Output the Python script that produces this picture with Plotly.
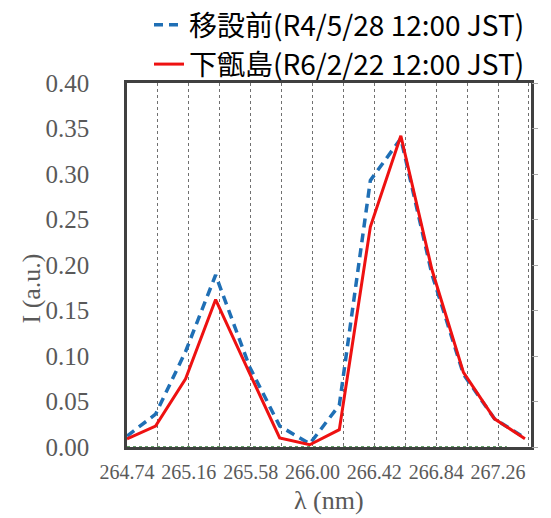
import plotly.graph_objects as go

# ---- data ----
wavelength_nm = [264.740, 264.934, 265.138, 265.342, 265.573, 265.777, 265.981,
                 266.182, 266.393, 266.600, 266.811, 267.025, 267.236, 267.443]
before_move = [0.012, 0.036, 0.105, 0.189, 0.088, 0.023, 0.0035,
               0.046, 0.293, 0.339, 0.190, 0.080, 0.031, 0.010]
shimokoshiki = [0.009, 0.023, 0.075, 0.162, 0.081, 0.010, 0.0025,
                0.019, 0.242, 0.342, 0.195, 0.082, 0.031, 0.009]
zero_x = [264.74, 267.32]
zero_y = [0.0, 0.0]

x_tick_labels = ["264.74", "265.16", "265.58", "266.00", "266.42", "266.84", "267.26"]
y_tick_vals = [0.00, 0.05, 0.10, 0.15, 0.20, 0.25, 0.30, 0.35, 0.40]
y_tick_labels = ["0.00", "0.05", "0.10", "0.15", "0.20", "0.25", "0.30", "0.35", "0.40"]

name_before = "移設前(R4/5/28 12:00 JST)"
name_after = "下甑島(R6/2/22 12:00 JST)"

W, H = 551, 518
ML, MR, MT, MB = 127, 20, 83, 71

fig = go.Figure()
fig.add_trace(go.Scatter(x=zero_x, y=zero_y, mode="lines", yaxis="y2",
                         line=dict(color="#2E7D32", width=1.5, dash="dot"),
                         showlegend=False, hoverinfo="skip"))
fig.add_trace(go.Scatter(x=wavelength_nm, y=before_move, mode="lines", name=name_before,
                         line=dict(color="#1F6FB5", width=3.5, dash="9px,6px")))
fig.add_trace(go.Scatter(x=wavelength_nm, y=shimokoshiki, mode="lines", name=name_after,
                         line=dict(color="#EE1111", width=3)))

tick_font_y = dict(family="Liberation Serif", size=25, color="#595959")
tick_font_x = dict(family="Liberation Serif", size=20, color="#595959")

fig.update_layout(
    width=W, height=H,
    margin=dict(l=ML, r=MR, t=MT, b=MB, pad=0, autoexpand=False),
    paper_bgcolor="white", plot_bgcolor="white",
    xaxis=dict(
        range=[264.74, 267.484],
        tickmode="linear", tick0=float(x_tick_labels[0]), dtick=0.42,
        tickformat=".2f",
        ticks="outside", ticklen=5, tickcolor="rgba(0,0,0,0)",
        tickfont=tick_font_x,
        showgrid=True, gridcolor="#707070", gridwidth=1, griddash="dot",
        minor=dict(tickmode="linear", tick0=float(x_tick_labels[0]), dtick=0.21,
                   showgrid=True, gridcolor="#707070", gridwidth=1, griddash="dot",
                   ticks=""),
        showline=True, linecolor="#404040", linewidth=2.5, mirror=True,
        zeroline=False,
    ),
    yaxis=dict(
        range=[0, 0.40],
        tickvals=y_tick_vals, ticktext=y_tick_labels,
        ticks="outside", ticklen=30, tickcolor="rgba(0,0,0,0)",
        tickfont=tick_font_y,
        showgrid=False, zeroline=False,
        showline=True, linecolor="#404040", linewidth=2.5, mirror=True,
    ),
    yaxis2=dict(
        range=[0, 0.40], overlaying="y", side="right",
        tickvals=y_tick_vals, showticklabels=False,
        ticks="outside", ticklen=6, tickcolor="#A6A6A6", tickwidth=1,
        showgrid=False, zeroline=False, showline=False,
    ),
    legend=dict(
        xref="container", yref="container",
        x=149 / W, y=1 + 2 / H, xanchor="left", yanchor="top",
        font=dict(family="Noto Sans CJK JP", size=28, color="black"),
        bgcolor="rgba(255,255,255,0)", borderwidth=0,
        tracegroupgap=0,
    ),
    annotations=[
        dict(text="λ (nm)", xref="paper", yref="paper",
             x=0.5, y=(446.5 - 500) / 364, xanchor="center", yanchor="middle",
             showarrow=False,
             font=dict(family="Liberation Serif", size=26, color="#595959")),
        dict(text="I (a.u.)", xref="paper", yref="paper",
             x=(31 - 127) / 404, y=(446.5 - 288) / 364, xanchor="center", yanchor="middle",
             textangle=-90, showarrow=False,
             font=dict(family="Liberation Serif", size=26, color="#595959")),
    ],
)

fig.write_html("out.html")
